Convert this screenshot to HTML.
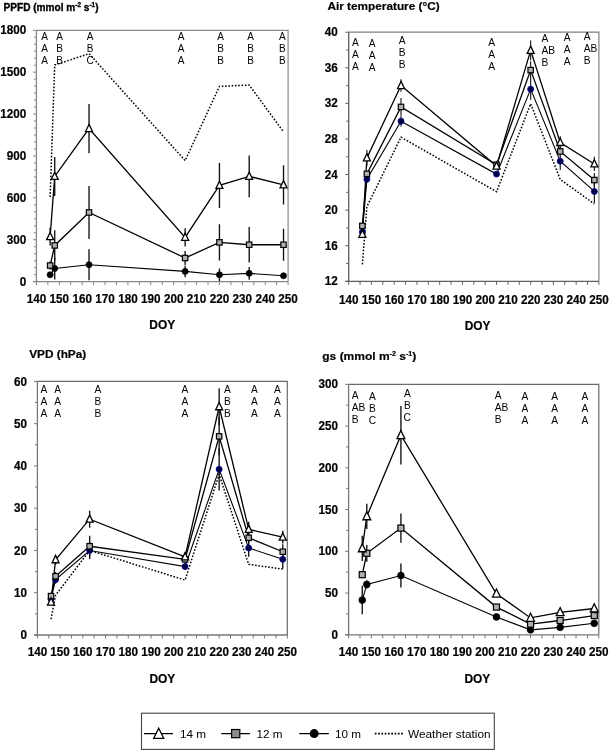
<!DOCTYPE html>
<html><head><meta charset="utf-8"><style>
html,body{margin:0;padding:0;background:#fff;}
svg{display:block;will-change:transform;}
text{font-family:"Liberation Sans",sans-serif;fill:#000;}

.tl{font-size:11.7px;font-weight:bold;stroke:#000;stroke-width:0.2px;}
.ti{font-size:11.8px;font-weight:bold;stroke:#000;stroke-width:0.2px;}
.le{font-size:10.3px;}
.lg{font-size:11.7px;}
</style></head><body>
<svg width="609" height="751" viewBox="0 0 609 751">
<path d="M36.4 30.3H288.1V281.6" fill="none" stroke="#8a8a8a" stroke-width="1.2"/>
<path d="M36.4 30.3V281.6M33.1 281.6H288.1" fill="none" stroke="#888" stroke-width="1.3"/>
<path d="M33 281.6H36.4M33.9 274.62H36.4M33.9 267.64H36.4M33.9 260.66H36.4M33.9 253.68H36.4M33.9 246.7H36.4M33 239.72H36.4M33.9 232.74H36.4M33.9 225.76H36.4M33.9 218.78H36.4M33.9 211.79H36.4M33.9 204.81H36.4M33 197.83H36.4M33.9 190.85H36.4M33.9 183.87H36.4M33.9 176.89H36.4M33.9 169.91H36.4M33.9 162.93H36.4M33 155.95H36.4M33.9 148.97H36.4M33.9 141.99H36.4M33.9 135.01H36.4M33.9 128.03H36.4M33.9 121.05H36.4M33 114.07H36.4M33.9 107.09H36.4M33.9 100.11H36.4M33.9 93.12H36.4M33.9 86.14H36.4M33.9 79.16H36.4M33 72.18H36.4M33.9 65.2H36.4M33.9 58.22H36.4M33.9 51.24H36.4M33.9 44.26H36.4M33.9 37.28H36.4M33 30.3H36.4M36.4 281.6V285.1M47.84 281.6V285.1M59.28 281.6V285.1M70.72 281.6V285.1M82.16 281.6V285.1M93.6 281.6V285.1M105.05 281.6V285.1M116.49 281.6V285.1M127.93 281.6V285.1M139.37 281.6V285.1M150.81 281.6V285.1M162.25 281.6V285.1M173.69 281.6V285.1M185.13 281.6V285.1M196.57 281.6V285.1M208.01 281.6V285.1M219.45 281.6V285.1M230.9 281.6V285.1M242.34 281.6V285.1M253.78 281.6V285.1M265.22 281.6V285.1M276.66 281.6V285.1M288.1 281.6V285.1" fill="none" stroke="#888" stroke-width="1"/>
<text class="tl" transform="translate(26.3 285.7) scale(1 1.07)" text-anchor="end">0</text>
<text class="tl" transform="translate(26.3 243.82) scale(1 1.07)" text-anchor="end">300</text>
<text class="tl" transform="translate(26.3 201.93) scale(1 1.07)" text-anchor="end">600</text>
<text class="tl" transform="translate(26.3 160.05) scale(1 1.07)" text-anchor="end">900</text>
<text class="tl" transform="translate(26.3 118.17) scale(1 1.07)" text-anchor="end">1200</text>
<text class="tl" transform="translate(26.3 76.28) scale(1 1.07)" text-anchor="end">1500</text>
<text class="tl" transform="translate(26.3 34.4) scale(1 1.07)" text-anchor="end">1800</text>
<text class="tl" transform="translate(36.4 303.4) scale(1 1.07)" text-anchor="middle">140</text>
<text class="tl" transform="translate(59.28 303.4) scale(1 1.07)" text-anchor="middle">150</text>
<text class="tl" transform="translate(82.16 303.4) scale(1 1.07)" text-anchor="middle">160</text>
<text class="tl" transform="translate(105.05 303.4) scale(1 1.07)" text-anchor="middle">170</text>
<text class="tl" transform="translate(127.93 303.4) scale(1 1.07)" text-anchor="middle">180</text>
<text class="tl" transform="translate(150.81 303.4) scale(1 1.07)" text-anchor="middle">190</text>
<text class="tl" transform="translate(173.69 303.4) scale(1 1.07)" text-anchor="middle">200</text>
<text class="tl" transform="translate(196.57 303.4) scale(1 1.07)" text-anchor="middle">210</text>
<text class="tl" transform="translate(219.45 303.4) scale(1 1.07)" text-anchor="middle">220</text>
<text class="tl" transform="translate(242.34 303.4) scale(1 1.07)" text-anchor="middle">230</text>
<text class="tl" transform="translate(265.22 303.4) scale(1 1.07)" text-anchor="middle">240</text>
<text class="tl" transform="translate(288.1 303.4) scale(1 1.07)" text-anchor="middle">250</text>
<text class="tl" x="162.2" y="329.1" text-anchor="middle" style="font-size:11.9px">DOY</text>
<text class="ti" x="3.5" y="10.8" style="font-size:11.1px;stroke-width:0.35px" textLength="95" lengthAdjust="spacingAndGlyphs">PPFD (mmol m<tspan dy="-4" font-size="7">-2</tspan><tspan dy="4"> s</tspan><tspan dy="-4" font-size="7">-1</tspan><tspan dy="4">)</tspan></text>
<text class="le" x="44.5" y="40.4" text-anchor="middle" style="font-size:10px">A</text>
<text class="le" x="44.5" y="52.4" text-anchor="middle" style="font-size:10px">A</text>
<text class="le" x="44.5" y="64.4" text-anchor="middle" style="font-size:10px">A</text>
<text class="le" x="59.5" y="40.4" text-anchor="middle" style="font-size:10px">A</text>
<text class="le" x="59.5" y="52.4" text-anchor="middle" style="font-size:10px">B</text>
<text class="le" x="59.5" y="64.4" text-anchor="middle" style="font-size:10px">B</text>
<text class="le" x="90" y="40.4" text-anchor="middle" style="font-size:10px">A</text>
<text class="le" x="90" y="52.4" text-anchor="middle" style="font-size:10px">B</text>
<text class="le" x="90" y="64.4" text-anchor="middle" style="font-size:10px">C</text>
<text class="le" x="181.1" y="40.4" text-anchor="middle" style="font-size:10px">A</text>
<text class="le" x="181.1" y="52.4" text-anchor="middle" style="font-size:10px">A</text>
<text class="le" x="181.1" y="64.4" text-anchor="middle" style="font-size:10px">A</text>
<text class="le" x="220.7" y="40.4" text-anchor="middle" style="font-size:10px">A</text>
<text class="le" x="220.7" y="52.4" text-anchor="middle" style="font-size:10px">B</text>
<text class="le" x="220.7" y="64.4" text-anchor="middle" style="font-size:10px">B</text>
<text class="le" x="250.6" y="40.4" text-anchor="middle" style="font-size:10px">A</text>
<text class="le" x="250.6" y="52.4" text-anchor="middle" style="font-size:10px">B</text>
<text class="le" x="250.6" y="64.4" text-anchor="middle" style="font-size:10px">B</text>
<text class="le" x="282.4" y="40.4" text-anchor="middle" style="font-size:10px">A</text>
<text class="le" x="282.4" y="52.4" text-anchor="middle" style="font-size:10px">B</text>
<text class="le" x="282.4" y="64.4" text-anchor="middle" style="font-size:10px">B</text>
<polyline points="50.13,197 54.71,65.06 89.03,53.62 185.13,160.56 219.45,86.42 249.2,85.03 283.52,131.94" fill="none" stroke="#000" stroke-width="1.5" stroke-dasharray="1.6 1.7"/>
<polyline points="50.13,274.76 54.71,268.48 89.03,264.71 185.13,271.41 219.45,274.76 249.2,273.36 283.52,275.74" fill="none" stroke="#000" stroke-width="1.1"/>
<polyline points="50.13,265.54 54.71,245.44 89.03,212.49 185.13,258.01 219.45,242.37 249.2,244.74 283.52,244.74" fill="none" stroke="#000" stroke-width="1.3"/>
<polyline points="50.13,236.65 54.71,176.47 89.03,128.59 185.13,237.34 219.45,185.41 249.2,176.33 283.52,184.85" fill="none" stroke="#000" stroke-width="1.3"/>
<path d="M54.71 257.45V279.51M89.03 249.21V280.2M185.13 265.68V277.13M219.45 268.48V281.04M249.2 267.08V279.65" fill="none" stroke="#111" stroke-width="1.35"/>
<path d="M50.13 261.5V269.59M54.71 230.36V260.52M89.03 185.97V239.02M185.13 251.03V264.99M219.45 224.22V260.52M249.2 227.01V262.47M283.52 228.69V260.8" fill="none" stroke="#111" stroke-width="1.35"/>
<path d="M50.13 227.71V245.58M54.71 157.07V195.88M89.03 104.01V153.16M185.13 228.13V246.56M219.45 162.93V207.89M249.2 155.39V197.27M283.52 165.3V204.4" fill="none" stroke="#111" stroke-width="1.35"/>
<circle cx="50.13" cy="274.76" r="3" fill="#000" stroke="#000" stroke-width="0.8"/>
<circle cx="54.71" cy="268.48" r="3" fill="#000" stroke="#000" stroke-width="0.8"/>
<circle cx="89.03" cy="264.71" r="3" fill="#000" stroke="#000" stroke-width="0.8"/>
<circle cx="185.13" cy="271.41" r="3" fill="#000" stroke="#000" stroke-width="0.8"/>
<circle cx="219.45" cy="274.76" r="3" fill="#000" stroke="#000" stroke-width="0.8"/>
<circle cx="249.2" cy="273.36" r="3" fill="#000" stroke="#000" stroke-width="0.8"/>
<circle cx="283.52" cy="275.74" r="3" fill="#000" stroke="#000" stroke-width="0.8"/>
<rect x="47.43" y="262.84" width="5.4" height="5.4" fill="#b0b0b0" stroke="#000" stroke-width="1.2"/>
<rect x="52.01" y="242.74" width="5.4" height="5.4" fill="#b0b0b0" stroke="#000" stroke-width="1.2"/>
<rect x="86.33" y="209.79" width="5.4" height="5.4" fill="#b0b0b0" stroke="#000" stroke-width="1.2"/>
<rect x="182.43" y="255.31" width="5.4" height="5.4" fill="#b0b0b0" stroke="#000" stroke-width="1.2"/>
<rect x="216.75" y="239.67" width="5.4" height="5.4" fill="#b0b0b0" stroke="#000" stroke-width="1.2"/>
<rect x="246.5" y="242.04" width="5.4" height="5.4" fill="#b0b0b0" stroke="#000" stroke-width="1.2"/>
<rect x="280.82" y="242.04" width="5.4" height="5.4" fill="#b0b0b0" stroke="#000" stroke-width="1.2"/>
<path d="M50.13 232.45L53.63 239.65H46.63Z" fill="#fff" stroke="#000" stroke-width="1.3"/>
<path d="M54.71 172.27L58.21 179.47H51.21Z" fill="#fff" stroke="#000" stroke-width="1.3"/>
<path d="M89.03 124.39L92.53 131.59H85.53Z" fill="#fff" stroke="#000" stroke-width="1.3"/>
<path d="M185.13 233.14L188.63 240.34H181.63Z" fill="#fff" stroke="#000" stroke-width="1.3"/>
<path d="M219.45 181.21L222.95 188.41H215.95Z" fill="#fff" stroke="#000" stroke-width="1.3"/>
<path d="M249.2 172.13L252.7 179.33H245.7Z" fill="#fff" stroke="#000" stroke-width="1.3"/>
<path d="M283.52 180.65L287.02 187.85H280.02Z" fill="#fff" stroke="#000" stroke-width="1.3"/>
<path d="M348.7 32.2H598.9V281.3" fill="none" stroke="#808080" stroke-width="1.2"/>
<path d="M348.7 32.2V281.3M345.4 281.3H598.9" fill="none" stroke="#5e5e5e" stroke-width="1.3"/>
<path d="M345.3 281.3H348.7M346.2 263.51H348.7M345.3 245.71H348.7M346.2 227.92H348.7M345.3 210.13H348.7M346.2 192.34H348.7M345.3 174.54H348.7M346.2 156.75H348.7M345.3 138.96H348.7M346.2 121.16H348.7M345.3 103.37H348.7M346.2 85.58H348.7M345.3 67.79H348.7M346.2 49.99H348.7M345.3 32.2H348.7M348.7 281.3V284.8M360.07 281.3V284.8M371.45 281.3V284.8M382.82 281.3V284.8M394.19 281.3V284.8M405.56 281.3V284.8M416.94 281.3V284.8M428.31 281.3V284.8M439.68 281.3V284.8M451.05 281.3V284.8M462.43 281.3V284.8M473.8 281.3V284.8M485.17 281.3V284.8M496.55 281.3V284.8M507.92 281.3V284.8M519.29 281.3V284.8M530.66 281.3V284.8M542.04 281.3V284.8M553.41 281.3V284.8M564.78 281.3V284.8M576.15 281.3V284.8M587.53 281.3V284.8M598.9 281.3V284.8" fill="none" stroke="#5e5e5e" stroke-width="1"/>
<text class="tl" transform="translate(337.7 285.4) scale(1 1.07)" text-anchor="end">12</text>
<text class="tl" transform="translate(337.7 249.81) scale(1 1.07)" text-anchor="end">16</text>
<text class="tl" transform="translate(337.7 214.23) scale(1 1.07)" text-anchor="end">20</text>
<text class="tl" transform="translate(337.7 178.64) scale(1 1.07)" text-anchor="end">24</text>
<text class="tl" transform="translate(337.7 143.06) scale(1 1.07)" text-anchor="end">28</text>
<text class="tl" transform="translate(337.7 107.47) scale(1 1.07)" text-anchor="end">32</text>
<text class="tl" transform="translate(337.7 71.89) scale(1 1.07)" text-anchor="end">36</text>
<text class="tl" transform="translate(337.7 36.3) scale(1 1.07)" text-anchor="end">40</text>
<text class="tl" transform="translate(348.7 303.7) scale(1 1.07)" text-anchor="middle">140</text>
<text class="tl" transform="translate(371.45 303.7) scale(1 1.07)" text-anchor="middle">150</text>
<text class="tl" transform="translate(394.19 303.7) scale(1 1.07)" text-anchor="middle">160</text>
<text class="tl" transform="translate(416.94 303.7) scale(1 1.07)" text-anchor="middle">170</text>
<text class="tl" transform="translate(439.68 303.7) scale(1 1.07)" text-anchor="middle">180</text>
<text class="tl" transform="translate(462.43 303.7) scale(1 1.07)" text-anchor="middle">190</text>
<text class="tl" transform="translate(485.17 303.7) scale(1 1.07)" text-anchor="middle">200</text>
<text class="tl" transform="translate(507.92 303.7) scale(1 1.07)" text-anchor="middle">210</text>
<text class="tl" transform="translate(530.66 303.7) scale(1 1.07)" text-anchor="middle">220</text>
<text class="tl" transform="translate(553.41 303.7) scale(1 1.07)" text-anchor="middle">230</text>
<text class="tl" transform="translate(576.15 303.7) scale(1 1.07)" text-anchor="middle">240</text>
<text class="tl" transform="translate(598.9 303.7) scale(1 1.07)" text-anchor="middle">250</text>
<text class="tl" x="477.6" y="329.7" text-anchor="middle" style="font-size:11.9px">DOY</text>
<text class="ti" x="327.4" y="10.3">Air temperature (°C)</text>
<text class="le" x="355.4" y="45.9" text-anchor="middle" style="font-size:10.2px">A</text>
<text class="le" x="355.4" y="57.9" text-anchor="middle" style="font-size:10.2px">A</text>
<text class="le" x="355.4" y="69.9" text-anchor="middle" style="font-size:10.2px">A</text>
<text class="le" x="372.2" y="46.7" text-anchor="middle" style="font-size:10.2px">A</text>
<text class="le" x="372.2" y="58.7" text-anchor="middle" style="font-size:10.2px">A</text>
<text class="le" x="372.2" y="70.7" text-anchor="middle" style="font-size:10.2px">A</text>
<text class="le" x="402.2" y="44.2" text-anchor="middle" style="font-size:10.2px">A</text>
<text class="le" x="402.2" y="56.2" text-anchor="middle" style="font-size:10.2px">B</text>
<text class="le" x="402.2" y="68.2" text-anchor="middle" style="font-size:10.2px">B</text>
<text class="le" x="491.7" y="46.1" text-anchor="middle" style="font-size:10.2px">A</text>
<text class="le" x="491.7" y="58.1" text-anchor="middle" style="font-size:10.2px">A</text>
<text class="le" x="491.7" y="70.1" text-anchor="middle" style="font-size:10.2px">A</text>
<text class="le" x="541.4" y="42.1" text-anchor="start" style="font-size:10.2px">A</text>
<text class="le" x="541.4" y="54.1" text-anchor="start" style="font-size:10.2px">AB</text>
<text class="le" x="541.4" y="66.1" text-anchor="start" style="font-size:10.2px">B</text>
<text class="le" x="567.2" y="41.3" text-anchor="middle" style="font-size:10.2px">A</text>
<text class="le" x="567.2" y="53.3" text-anchor="middle" style="font-size:10.2px">A</text>
<text class="le" x="567.2" y="65.3" text-anchor="middle" style="font-size:10.2px">A</text>
<text class="le" x="583.8" y="40.3" text-anchor="start" style="font-size:10.2px">A</text>
<text class="le" x="583.8" y="52.3" text-anchor="start" style="font-size:10.2px">AB</text>
<text class="le" x="583.8" y="64.3" text-anchor="start" style="font-size:10.2px">B</text>
<polyline points="362.35,264.4 366.9,206.57 401.01,137.18 496.55,191.71 530.66,103.73 560.23,179.44 594.35,203.9" fill="none" stroke="#000" stroke-width="1.5" stroke-dasharray="1.6 1.7"/>
<polyline points="362.35,232.01 366.9,179.26 401.01,121.16 496.55,174.1 530.66,89.14 560.23,161.2 594.35,191.45" fill="none" stroke="#000" stroke-width="1.1"/>
<polyline points="362.35,225.88 366.9,173.83 401.01,106.93 496.55,164.76 530.66,70.1 560.23,151.41 594.35,180.06" fill="none" stroke="#000" stroke-width="1.3"/>
<polyline points="362.35,234.33 366.9,157.91 401.01,85.58 496.55,166.09 530.66,50.35 560.23,142.52 594.35,163.96" fill="none" stroke="#000" stroke-width="1.3"/>
<path d="M366.9 175.7V182.82M401.01 115.83V126.5M496.55 172.32V175.88M530.66 78.46V99.81M560.23 152.3V170.09M594.35 179.88V203.01" fill="none" stroke="#111" stroke-width="1.1"/>
<path d="M366.9 171.16V176.5M401.01 98.03V115.83M496.55 162.09V167.43M530.66 61.2V79M560.23 146.96V155.86M594.35 172.94V187.18" fill="none" stroke="#111" stroke-width="1.1"/>
<path d="M366.9 149.9V165.91M401.01 79.35V91.81M496.55 163.42V168.76M530.66 40.56V60.13M560.23 136.29V148.74M594.35 156.84V171.07" fill="none" stroke="#111" stroke-width="1.1"/>
<circle cx="362.35" cy="232.01" r="3" fill="#000040" stroke="#0000a0" stroke-width="0.8"/>
<circle cx="366.9" cy="179.26" r="3" fill="#000040" stroke="#0000a0" stroke-width="0.8"/>
<circle cx="401.01" cy="121.16" r="3" fill="#000040" stroke="#0000a0" stroke-width="0.8"/>
<circle cx="496.55" cy="174.1" r="3" fill="#000040" stroke="#0000a0" stroke-width="0.8"/>
<circle cx="530.66" cy="89.14" r="3" fill="#000040" stroke="#0000a0" stroke-width="0.8"/>
<circle cx="560.23" cy="161.2" r="3" fill="#000040" stroke="#0000a0" stroke-width="0.8"/>
<circle cx="594.35" cy="191.45" r="3" fill="#000040" stroke="#0000a0" stroke-width="0.8"/>
<rect x="359.65" y="223.18" width="5.4" height="5.4" fill="#b0b0b0" stroke="#000" stroke-width="1.2"/>
<rect x="364.2" y="171.13" width="5.4" height="5.4" fill="#b0b0b0" stroke="#000" stroke-width="1.2"/>
<rect x="398.31" y="104.23" width="5.4" height="5.4" fill="#b0b0b0" stroke="#000" stroke-width="1.2"/>
<rect x="493.85" y="162.06" width="5.4" height="5.4" fill="#b0b0b0" stroke="#000" stroke-width="1.2"/>
<rect x="527.96" y="67.4" width="5.4" height="5.4" fill="#b0b0b0" stroke="#000" stroke-width="1.2"/>
<rect x="557.53" y="148.71" width="5.4" height="5.4" fill="#b0b0b0" stroke="#000" stroke-width="1.2"/>
<rect x="591.65" y="177.36" width="5.4" height="5.4" fill="#b0b0b0" stroke="#000" stroke-width="1.2"/>
<path d="M362.35 230.13L365.85 237.33H358.85Z" fill="#fff" stroke="#000" stroke-width="1.3"/>
<path d="M366.9 153.71L370.4 160.91H363.4Z" fill="#fff" stroke="#000" stroke-width="1.3"/>
<path d="M401.01 81.38L404.51 88.58H397.51Z" fill="#fff" stroke="#000" stroke-width="1.3"/>
<path d="M496.55 161.89L500.05 169.09H493.05Z" fill="#fff" stroke="#000" stroke-width="1.3"/>
<path d="M530.66 46.15L534.16 53.35H527.16Z" fill="#fff" stroke="#000" stroke-width="1.3"/>
<path d="M560.23 138.32L563.73 145.52H556.73Z" fill="#fff" stroke="#000" stroke-width="1.3"/>
<path d="M594.35 159.76L597.85 166.96H590.85Z" fill="#fff" stroke="#000" stroke-width="1.3"/>
<path d="M37.4 381.4H287.3V635" fill="none" stroke="#6a6a6a" stroke-width="1.2"/>
<path d="M37.4 381.4V635M34.1 635H287.3" fill="none" stroke="#777" stroke-width="1.3"/>
<path d="M34 635H37.4M34.9 613.87H37.4M34 592.73H37.4M34.9 571.6H37.4M34 550.47H37.4M34.9 529.33H37.4M34 508.2H37.4M34.9 487.07H37.4M34 465.93H37.4M34.9 444.8H37.4M34 423.67H37.4M34.9 402.53H37.4M34 381.4H37.4M37.4 635V638.5M48.76 635V638.5M60.12 635V638.5M71.48 635V638.5M82.84 635V638.5M94.2 635V638.5M105.55 635V638.5M116.91 635V638.5M128.27 635V638.5M139.63 635V638.5M150.99 635V638.5M162.35 635V638.5M173.71 635V638.5M185.07 635V638.5M196.43 635V638.5M207.79 635V638.5M219.15 635V638.5M230.5 635V638.5M241.86 635V638.5M253.22 635V638.5M264.58 635V638.5M275.94 635V638.5M287.3 635V638.5" fill="none" stroke="#777" stroke-width="1"/>
<text class="tl" transform="translate(27.1 639.1) scale(1 1.07)" text-anchor="end">0</text>
<text class="tl" transform="translate(27.1 596.83) scale(1 1.07)" text-anchor="end">10</text>
<text class="tl" transform="translate(27.1 554.57) scale(1 1.07)" text-anchor="end">20</text>
<text class="tl" transform="translate(27.1 512.3) scale(1 1.07)" text-anchor="end">30</text>
<text class="tl" transform="translate(27.1 470.03) scale(1 1.07)" text-anchor="end">40</text>
<text class="tl" transform="translate(27.1 427.77) scale(1 1.07)" text-anchor="end">50</text>
<text class="tl" transform="translate(27.1 385.5) scale(1 1.07)" text-anchor="end">60</text>
<text class="tl" transform="translate(37.4 656.4) scale(1 1.07)" text-anchor="middle">140</text>
<text class="tl" transform="translate(60.12 656.4) scale(1 1.07)" text-anchor="middle">150</text>
<text class="tl" transform="translate(82.84 656.4) scale(1 1.07)" text-anchor="middle">160</text>
<text class="tl" transform="translate(105.55 656.4) scale(1 1.07)" text-anchor="middle">170</text>
<text class="tl" transform="translate(128.27 656.4) scale(1 1.07)" text-anchor="middle">180</text>
<text class="tl" transform="translate(150.99 656.4) scale(1 1.07)" text-anchor="middle">190</text>
<text class="tl" transform="translate(173.71 656.4) scale(1 1.07)" text-anchor="middle">200</text>
<text class="tl" transform="translate(196.43 656.4) scale(1 1.07)" text-anchor="middle">210</text>
<text class="tl" transform="translate(219.15 656.4) scale(1 1.07)" text-anchor="middle">220</text>
<text class="tl" transform="translate(241.86 656.4) scale(1 1.07)" text-anchor="middle">230</text>
<text class="tl" transform="translate(264.58 656.4) scale(1 1.07)" text-anchor="middle">240</text>
<text class="tl" transform="translate(287.3 656.4) scale(1 1.07)" text-anchor="middle">250</text>
<text class="tl" x="162.3" y="682.8" text-anchor="middle" style="font-size:11.9px">DOY</text>
<text class="ti" x="29.2" y="357.7">VPD (hPa)</text>
<text class="le" x="43.9" y="392.9" text-anchor="middle" style="font-size:10.2px">A</text>
<text class="le" x="43.9" y="404.9" text-anchor="middle" style="font-size:10.2px">A</text>
<text class="le" x="43.9" y="416.9" text-anchor="middle" style="font-size:10.2px">A</text>
<text class="le" x="57.6" y="392.9" text-anchor="middle" style="font-size:10.2px">A</text>
<text class="le" x="57.6" y="404.9" text-anchor="middle" style="font-size:10.2px">A</text>
<text class="le" x="57.6" y="416.9" text-anchor="middle" style="font-size:10.2px">A</text>
<text class="le" x="97.8" y="392.9" text-anchor="middle" style="font-size:10.2px">A</text>
<text class="le" x="97.8" y="404.9" text-anchor="middle" style="font-size:10.2px">B</text>
<text class="le" x="97.8" y="416.9" text-anchor="middle" style="font-size:10.2px">B</text>
<text class="le" x="184.8" y="392.9" text-anchor="middle" style="font-size:10.2px">A</text>
<text class="le" x="184.8" y="404.9" text-anchor="middle" style="font-size:10.2px">A</text>
<text class="le" x="184.8" y="416.9" text-anchor="middle" style="font-size:10.2px">A</text>
<text class="le" x="227.3" y="392.9" text-anchor="middle" style="font-size:10.2px">A</text>
<text class="le" x="227.3" y="404.9" text-anchor="middle" style="font-size:10.2px">B</text>
<text class="le" x="227.3" y="416.9" text-anchor="middle" style="font-size:10.2px">B</text>
<text class="le" x="254.5" y="392.9" text-anchor="middle" style="font-size:10.2px">A</text>
<text class="le" x="254.5" y="404.9" text-anchor="middle" style="font-size:10.2px">A</text>
<text class="le" x="254.5" y="416.9" text-anchor="middle" style="font-size:10.2px">A</text>
<text class="le" x="277.5" y="392.9" text-anchor="middle" style="font-size:10.2px">A</text>
<text class="le" x="277.5" y="404.9" text-anchor="middle" style="font-size:10.2px">A</text>
<text class="le" x="277.5" y="416.9" text-anchor="middle" style="font-size:10.2px">A</text>
<polyline points="51.03,619.11 55.57,595.27 89.65,550.47 185.07,580.05 219.15,474.39 248.68,564.41 282.76,569.06" fill="none" stroke="#000" stroke-width="1.5" stroke-dasharray="1.6 1.7"/>
<polyline points="51.03,599.07 55.57,579.63 89.65,550.47 185.07,566.53 219.15,469.31 248.68,547.93 282.76,559.34" fill="none" stroke="#000" stroke-width="1.1"/>
<polyline points="51.03,596.11 55.57,576.25 89.65,546.24 185.07,559.34 219.15,436.35 248.68,537.79 282.76,551.73" fill="none" stroke="#000" stroke-width="1.3"/>
<polyline points="51.03,602.03 55.57,559.77 89.65,519.19 185.07,556.81 219.15,406.76 248.68,529.33 282.76,537.15" fill="none" stroke="#000" stroke-width="1.3"/>
<path d="M55.57 575.4V583.86M89.65 542.01V558.92M185.07 563.15V569.91M219.15 448.18V490.45M248.68 539.05V556.81M282.76 550.04V568.64" fill="none" stroke="#111" stroke-width="1.35"/>
<path d="M55.57 572.02V580.48M89.65 535.67V556.81M185.07 555.96V562.72M219.15 417.33V455.37M248.68 532.71V542.86M282.76 544.13V559.34" fill="none" stroke="#111" stroke-width="1.35"/>
<path d="M55.57 554.69V564.84M89.65 510.74V527.64M185.07 552.58V561.03M219.15 388.16V425.36M248.68 521.73V536.94M282.76 530.81V543.49" fill="none" stroke="#111" stroke-width="1.35"/>
<circle cx="51.03" cy="599.07" r="3" fill="#000040" stroke="#0000a0" stroke-width="0.8"/>
<circle cx="55.57" cy="579.63" r="3" fill="#000040" stroke="#0000a0" stroke-width="0.8"/>
<circle cx="89.65" cy="550.47" r="3" fill="#000040" stroke="#0000a0" stroke-width="0.8"/>
<circle cx="185.07" cy="566.53" r="3" fill="#000040" stroke="#0000a0" stroke-width="0.8"/>
<circle cx="219.15" cy="469.31" r="3" fill="#000040" stroke="#0000a0" stroke-width="0.8"/>
<circle cx="248.68" cy="547.93" r="3" fill="#000040" stroke="#0000a0" stroke-width="0.8"/>
<circle cx="282.76" cy="559.34" r="3" fill="#000040" stroke="#0000a0" stroke-width="0.8"/>
<rect x="48.33" y="593.41" width="5.4" height="5.4" fill="#b0b0b0" stroke="#000" stroke-width="1.2"/>
<rect x="52.87" y="573.55" width="5.4" height="5.4" fill="#b0b0b0" stroke="#000" stroke-width="1.2"/>
<rect x="86.95" y="543.54" width="5.4" height="5.4" fill="#b0b0b0" stroke="#000" stroke-width="1.2"/>
<rect x="182.37" y="556.64" width="5.4" height="5.4" fill="#b0b0b0" stroke="#000" stroke-width="1.2"/>
<rect x="216.45" y="433.65" width="5.4" height="5.4" fill="#b0b0b0" stroke="#000" stroke-width="1.2"/>
<rect x="245.98" y="535.09" width="5.4" height="5.4" fill="#b0b0b0" stroke="#000" stroke-width="1.2"/>
<rect x="280.06" y="549.03" width="5.4" height="5.4" fill="#b0b0b0" stroke="#000" stroke-width="1.2"/>
<path d="M51.03 597.83L54.53 605.03H47.53Z" fill="#fff" stroke="#000" stroke-width="1.3"/>
<path d="M55.57 555.57L59.07 562.77H52.07Z" fill="#fff" stroke="#000" stroke-width="1.3"/>
<path d="M89.65 514.99L93.15 522.19H86.15Z" fill="#fff" stroke="#000" stroke-width="1.3"/>
<path d="M185.07 552.61L188.57 559.81H181.57Z" fill="#fff" stroke="#000" stroke-width="1.3"/>
<path d="M219.15 402.56L222.65 409.76H215.65Z" fill="#fff" stroke="#000" stroke-width="1.3"/>
<path d="M248.68 525.13L252.18 532.33H245.18Z" fill="#fff" stroke="#000" stroke-width="1.3"/>
<path d="M282.76 532.95L286.26 540.15H279.26Z" fill="#fff" stroke="#000" stroke-width="1.3"/>
<path d="M348.6 384.3H598.8V634.8" fill="none" stroke="#6a6a6a" stroke-width="1.2"/>
<path d="M348.6 384.3V634.8M345.3 634.8H598.8" fill="none" stroke="#777" stroke-width="1.3"/>
<path d="M345.2 634.8H348.6M346.1 613.92H348.6M345.2 593.05H348.6M346.1 572.17H348.6M345.2 551.3H348.6M346.1 530.42H348.6M345.2 509.55H348.6M346.1 488.67H348.6M345.2 467.8H348.6M346.1 446.92H348.6M345.2 426.05H348.6M346.1 405.17H348.6M345.2 384.3H348.6M348.6 634.8V638.3M359.97 634.8V638.3M371.35 634.8V638.3M382.72 634.8V638.3M394.09 634.8V638.3M405.46 634.8V638.3M416.84 634.8V638.3M428.21 634.8V638.3M439.58 634.8V638.3M450.95 634.8V638.3M462.33 634.8V638.3M473.7 634.8V638.3M485.07 634.8V638.3M496.45 634.8V638.3M507.82 634.8V638.3M519.19 634.8V638.3M530.56 634.8V638.3M541.94 634.8V638.3M553.31 634.8V638.3M564.68 634.8V638.3M576.05 634.8V638.3M587.43 634.8V638.3M598.8 634.8V638.3" fill="none" stroke="#777" stroke-width="1"/>
<text class="tl" transform="translate(337.9 638.9) scale(1 1.07)" text-anchor="end">0</text>
<text class="tl" transform="translate(337.9 597.15) scale(1 1.07)" text-anchor="end">50</text>
<text class="tl" transform="translate(337.9 555.4) scale(1 1.07)" text-anchor="end">100</text>
<text class="tl" transform="translate(337.9 513.65) scale(1 1.07)" text-anchor="end">150</text>
<text class="tl" transform="translate(337.9 471.9) scale(1 1.07)" text-anchor="end">200</text>
<text class="tl" transform="translate(337.9 430.15) scale(1 1.07)" text-anchor="end">250</text>
<text class="tl" transform="translate(337.9 388.4) scale(1 1.07)" text-anchor="end">300</text>
<text class="tl" transform="translate(348.6 656) scale(1 1.07)" text-anchor="middle">140</text>
<text class="tl" transform="translate(371.35 656) scale(1 1.07)" text-anchor="middle">150</text>
<text class="tl" transform="translate(394.09 656) scale(1 1.07)" text-anchor="middle">160</text>
<text class="tl" transform="translate(416.84 656) scale(1 1.07)" text-anchor="middle">170</text>
<text class="tl" transform="translate(439.58 656) scale(1 1.07)" text-anchor="middle">180</text>
<text class="tl" transform="translate(462.33 656) scale(1 1.07)" text-anchor="middle">190</text>
<text class="tl" transform="translate(485.07 656) scale(1 1.07)" text-anchor="middle">200</text>
<text class="tl" transform="translate(507.82 656) scale(1 1.07)" text-anchor="middle">210</text>
<text class="tl" transform="translate(530.56 656) scale(1 1.07)" text-anchor="middle">220</text>
<text class="tl" transform="translate(553.31 656) scale(1 1.07)" text-anchor="middle">230</text>
<text class="tl" transform="translate(576.05 656) scale(1 1.07)" text-anchor="middle">240</text>
<text class="tl" transform="translate(598.8 656) scale(1 1.07)" text-anchor="middle">250</text>
<text class="tl" x="477.4" y="682.6" text-anchor="middle" style="font-size:11.9px">DOY</text>
<text class="ti" x="322.3" y="359.7" textLength="94" lengthAdjust="spacingAndGlyphs">gs (mmol m<tspan dy="-4" font-size="7">-2</tspan><tspan dy="4"> s</tspan><tspan dy="-4" font-size="7">-1</tspan><tspan dy="4">)</tspan></text>
<text class="le" x="351.7" y="398.8" text-anchor="start" style="font-size:10.2px">A</text>
<text class="le" x="351.7" y="410.8" text-anchor="start" style="font-size:10.2px">AB</text>
<text class="le" x="351.7" y="422.8" text-anchor="start" style="font-size:10.2px">B</text>
<text class="le" x="372.5" y="399.8" text-anchor="middle" style="font-size:10.2px">A</text>
<text class="le" x="372.5" y="411.8" text-anchor="middle" style="font-size:10.2px">B</text>
<text class="le" x="372.5" y="423.8" text-anchor="middle" style="font-size:10.2px">C</text>
<text class="le" x="407.3" y="397.3" text-anchor="middle" style="font-size:10.2px">A</text>
<text class="le" x="407.3" y="409.3" text-anchor="middle" style="font-size:10.2px">B</text>
<text class="le" x="407.3" y="421.3" text-anchor="middle" style="font-size:10.2px">C</text>
<text class="le" x="494.8" y="398.8" text-anchor="start" style="font-size:10.2px">A</text>
<text class="le" x="494.8" y="410.8" text-anchor="start" style="font-size:10.2px">AB</text>
<text class="le" x="494.8" y="422.8" text-anchor="start" style="font-size:10.2px">B</text>
<text class="le" x="525" y="399.7" text-anchor="middle" style="font-size:10.2px">A</text>
<text class="le" x="525" y="411.7" text-anchor="middle" style="font-size:10.2px">A</text>
<text class="le" x="525" y="423.7" text-anchor="middle" style="font-size:10.2px">A</text>
<text class="le" x="554.7" y="399.7" text-anchor="middle" style="font-size:10.2px">A</text>
<text class="le" x="554.7" y="411.7" text-anchor="middle" style="font-size:10.2px">A</text>
<text class="le" x="554.7" y="423.7" text-anchor="middle" style="font-size:10.2px">A</text>
<text class="le" x="584.9" y="399.7" text-anchor="middle" style="font-size:10.2px">A</text>
<text class="le" x="584.9" y="411.7" text-anchor="middle" style="font-size:10.2px">A</text>
<text class="le" x="584.9" y="423.7" text-anchor="middle" style="font-size:10.2px">A</text>
<polyline points="362.25,600.06 366.8,584.45 400.91,575.51 496.45,616.93 530.56,629.87 560.13,627.37 594.25,623.28" fill="none" stroke="#000" stroke-width="1.1"/>
<polyline points="362.25,574.68 366.8,553.3 400.91,528.09 496.45,607.08 530.56,624.11 560.13,620.52 594.25,615.59" fill="none" stroke="#000" stroke-width="1.3"/>
<polyline points="362.25,548.38 366.8,516.4 400.91,435.24 496.45,593.72 530.56,617.93 560.13,612.34 594.25,608.5" fill="none" stroke="#000" stroke-width="1.3"/>
<path d="M362.25 585.87V614.26M366.8 580.27V588.62M400.91 563.41V587.62M496.45 615.26V618.6M530.56 628.2V631.54M560.13 625.7V629.04M594.25 621.61V624.95" fill="none" stroke="#111" stroke-width="1.35"/>
<path d="M366.8 544.95V561.65M400.91 513.47V542.7M496.45 605.41V608.75M530.56 622.44V625.78M560.13 618.85V622.19M594.25 613.92V617.26" fill="none" stroke="#111" stroke-width="1.35"/>
<path d="M362.25 535.85V560.9M366.8 503.87V528.92M400.91 406.01V464.46M496.45 591.21V596.22M530.56 616.26V619.6M560.13 610.67V614.01M594.25 606.83V610.17" fill="none" stroke="#111" stroke-width="1.35"/>
<circle cx="362.25" cy="600.06" r="3.36" fill="#000" stroke="#000" stroke-width="0.8"/>
<circle cx="366.8" cy="584.45" r="3.36" fill="#000" stroke="#000" stroke-width="0.8"/>
<circle cx="400.91" cy="575.51" r="3.36" fill="#000" stroke="#000" stroke-width="0.8"/>
<circle cx="496.45" cy="616.93" r="3.36" fill="#000" stroke="#000" stroke-width="0.8"/>
<circle cx="530.56" cy="629.87" r="3.36" fill="#000" stroke="#000" stroke-width="0.8"/>
<circle cx="560.13" cy="627.37" r="3.36" fill="#000" stroke="#000" stroke-width="0.8"/>
<circle cx="594.25" cy="623.28" r="3.36" fill="#000" stroke="#000" stroke-width="0.8"/>
<rect x="359.22" y="571.66" width="6.05" height="6.05" fill="#b0b0b0" stroke="#000" stroke-width="1.2"/>
<rect x="363.77" y="550.28" width="6.05" height="6.05" fill="#b0b0b0" stroke="#000" stroke-width="1.2"/>
<rect x="397.89" y="525.06" width="6.05" height="6.05" fill="#b0b0b0" stroke="#000" stroke-width="1.2"/>
<rect x="493.42" y="604.05" width="6.05" height="6.05" fill="#b0b0b0" stroke="#000" stroke-width="1.2"/>
<rect x="527.54" y="621.09" width="6.05" height="6.05" fill="#b0b0b0" stroke="#000" stroke-width="1.2"/>
<rect x="557.11" y="617.5" width="6.05" height="6.05" fill="#b0b0b0" stroke="#000" stroke-width="1.2"/>
<rect x="591.23" y="612.57" width="6.05" height="6.05" fill="#b0b0b0" stroke="#000" stroke-width="1.2"/>
<path d="M362.25 543.67L366.17 551.74H358.33Z" fill="#fff" stroke="#000" stroke-width="1.3"/>
<path d="M366.8 511.69L370.72 519.76H362.88Z" fill="#fff" stroke="#000" stroke-width="1.3"/>
<path d="M400.91 430.53L404.83 438.6H396.99Z" fill="#fff" stroke="#000" stroke-width="1.3"/>
<path d="M496.45 589.01L500.37 597.08H492.53Z" fill="#fff" stroke="#000" stroke-width="1.3"/>
<path d="M530.56 613.23L534.48 621.29H526.64Z" fill="#fff" stroke="#000" stroke-width="1.3"/>
<path d="M560.13 607.63L564.05 615.7H556.21Z" fill="#fff" stroke="#000" stroke-width="1.3"/>
<path d="M594.25 603.79L598.17 611.86H590.33Z" fill="#fff" stroke="#000" stroke-width="1.3"/>
<rect x="141.5" y="713.2" width="352.8" height="36.2" fill="none" stroke="#444" stroke-width="1.1"/>
<path d="M143.9 733.6H173M221.3 733.6H250.1M299.3 733.6H328.9" stroke="#000" stroke-width="1.4"/>
<path d="M374.8 733.6H404.2" stroke="#000" stroke-width="1.9" stroke-dasharray="1.7 1.6"/>
<path d="M158.7 728.2L163.7 738.3000000000001H153.7Z" fill="#fff" stroke="#000" stroke-width="1.3"/>
<rect x="231.6" y="729.5" width="8.2" height="8.2" fill="#8c8c8c" stroke="#000" stroke-width="1.2"/>
<circle cx="314.2" cy="733.6" r="4.5" fill="#000"/>
<text class="lg" x="179.9" y="737.7">14 m</text>
<text class="lg" x="256.4" y="737.7">12 m</text>
<text class="lg" x="335.1" y="737.7">10 m</text>
<text class="lg" x="408" y="737.7" textLength="82.6" lengthAdjust="spacingAndGlyphs">Weather station</text>
</svg>
</body></html>
